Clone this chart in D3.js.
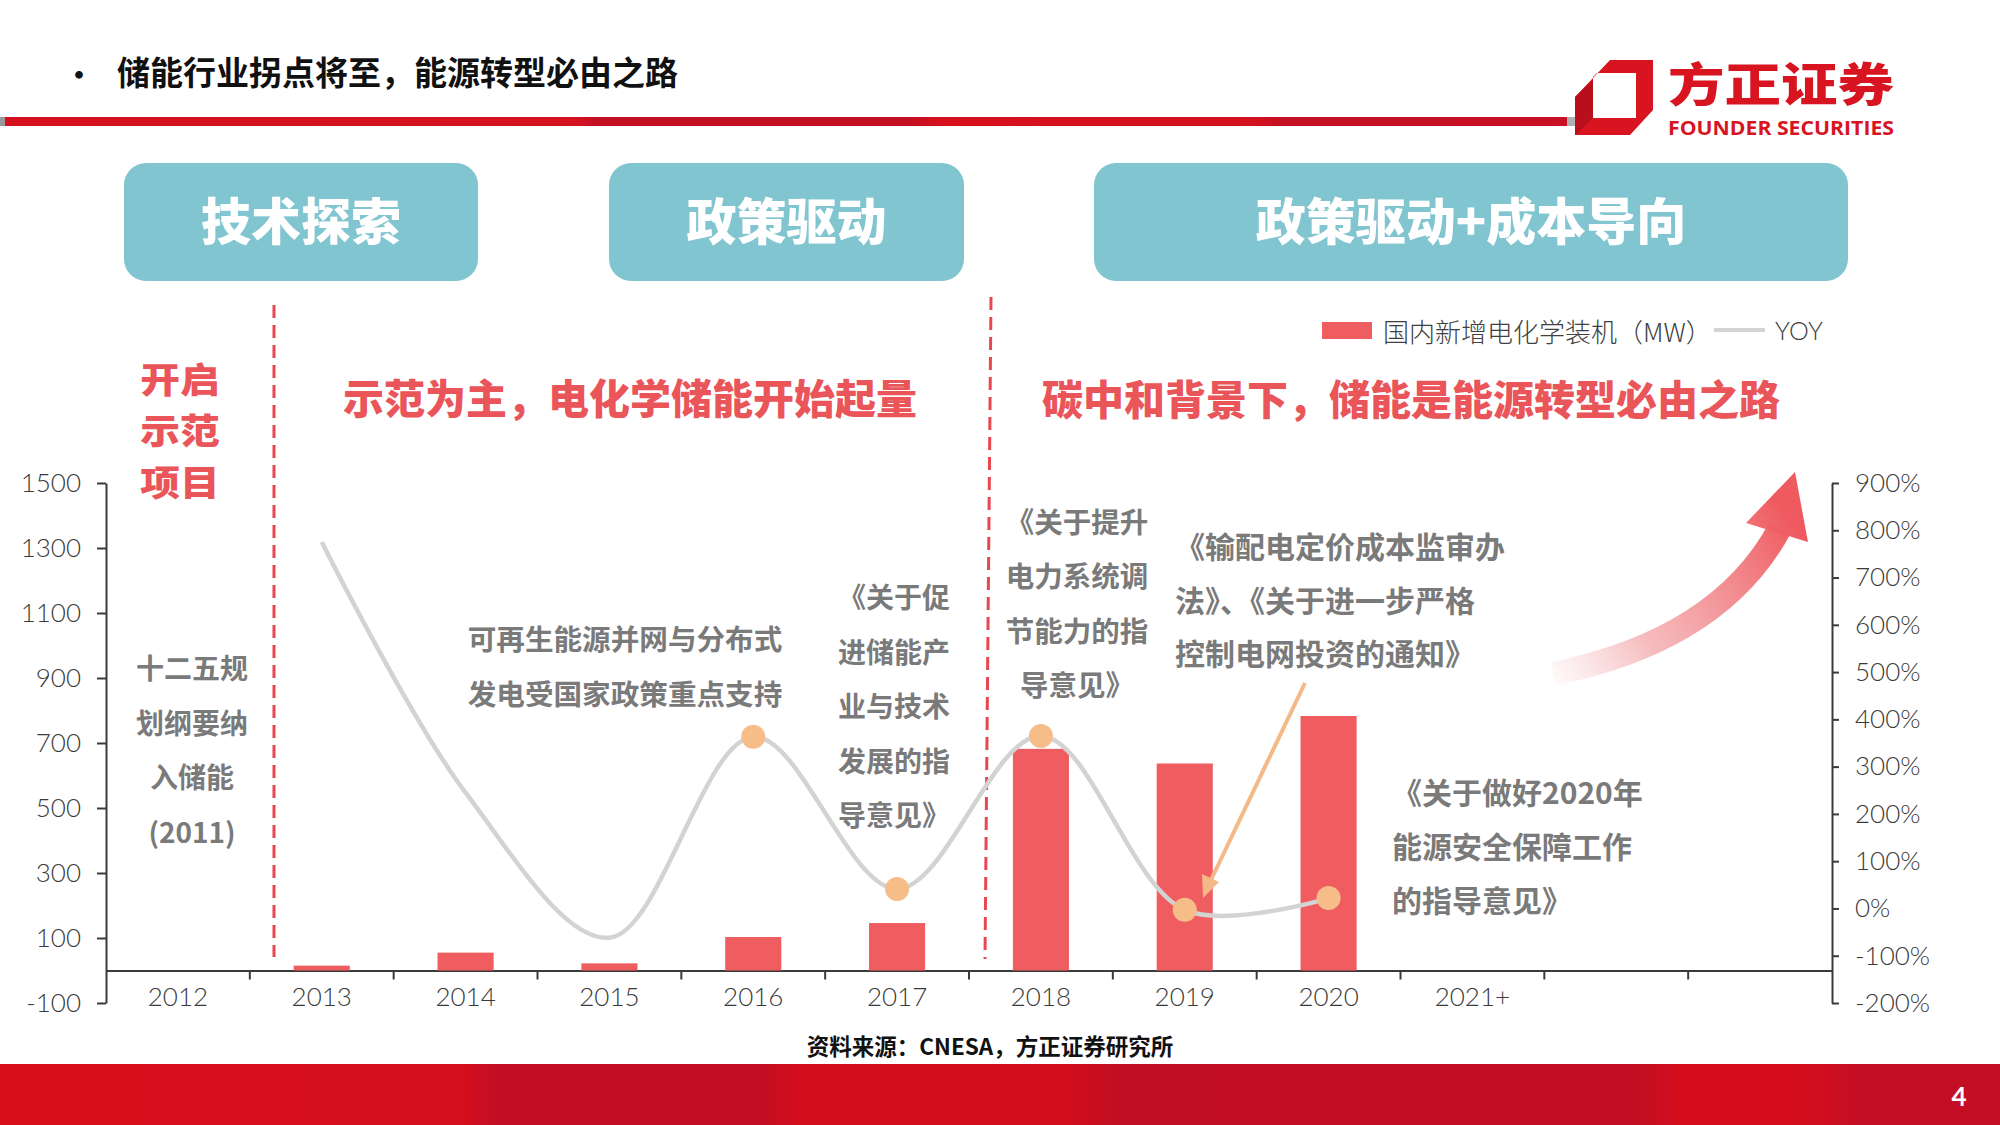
<!DOCTYPE html>
<html><head><meta charset="utf-8">
<script src="https://cdn.jsdelivr.net/npm/d3@7"></script>
<style>
html,body{margin:0;padding:0;background:#fff;}
svg{display:block;}
</style></head><body>
<svg id="chart" width="2000" height="1125"></svg>
<script>
// ---------- data ----------
const categories = ["2012","2013","2014","2015","2016","2017","2018","2019","2020","2021+"];
const slotCount = 12;
const capacityYears = ["2013","2014","2015","2016","2017","2018","2019","2020"];
const capacityMW = [15, 55, 22, 103, 146, 682, 637, 783];
const yoyYears = ["2013","2014","2015","2016","2017","2018","2019","2020"];
const yoyPct = [775, 245, -62, 363, 41, 365, -3, 22];
const yoyDotYears = ["2016","2017","2018","2019","2020"];
const leftTicks = [-100,100,300,500,700,900,1100,1300,1500];
const rightTicks = [-200,-100,0,100,200,300,400,500,600,700,800,900];
const legendLabels = ["国内新增电化学装机（MW）","YOY"];

const CJK = "'Noto Sans CJK SC','Noto Sans',sans-serif";
const NUM = "Lato,'Noto Sans',sans-serif";
const barColor = "#EF5D60";
const teal = "#80C5D0";
const redText = "#EA555A";
const grayText = "#7A7A7A";

const svg = d3.select("#chart");
const defs = svg.append("defs");

// ---------- header ----------
const bandGrad = defs.append("linearGradient").attr("id","topLine").attr("x1","0").attr("x2","1");
[[0,"#D51120"],[0.37,"#D41220"],[0.38,"#C30F24"],[0.58,"#C30F24"],[0.6,"#D6101D"],[0.8,"#D3111F"],[0.82,"#C40F25"],[1,"#C81026"]]
  .forEach(s=>bandGrad.append("stop").attr("offset",s[0]).attr("stop-color",s[1]));
svg.append("rect").attr("x",0).attr("y",117).attr("width",1568).attr("height",9).attr("fill","url(#topLine)");
svg.append("rect").attr("x",0).attr("y",117).attr("width",5).attr("height",9).attr("fill","#999");
svg.append("rect").attr("x",1567).attr("y",117).attr("width",15).attr("height",9).attr("fill","#B0B0B0");

svg.append("text").attr("x",64).attr("y",73).attr("dominant-baseline","central")
  .attr("font-family",CJK).attr("font-weight",700).attr("font-size",30).attr("fill","#111").text("•");
svg.append("text").attr("x",117).attr("y",71).attr("dominant-baseline","central")
  .attr("font-family",CJK).attr("font-weight",700).attr("font-size",33).attr("fill","#111")
  .text("储能行业拐点将至，能源转型必由之路");

// logo
svg.append("path").attr("fill-rule","evenodd").attr("fill","#D7141F")
  .attr("d","M1610,60 L1653,60 L1653,110 L1630,135 L1575,135 L1575,97 Z M1597,73 L1636,73 L1636,118 L1593,118 L1593,77 Z");
svg.append("path").attr("fill","#B80F1C").attr("d","M1575,97 L1593,80 L1593,118 L1575,135 Z");
svg.append("text").attr("x",1668).attr("y",81).attr("dominant-baseline","central")
  .attr("font-family",CJK).attr("font-weight",900).attr("font-size",46).attr("fill","#D7141F")
  .attr("textLength",226).attr("lengthAdjust","spacingAndGlyphs").text("方正证券");
svg.append("text").attr("x",1668).attr("y",127.5).attr("dominant-baseline","central")
  .attr("font-family","'Open Sans','Noto Sans',sans-serif").attr("font-weight",700).attr("font-size",19).attr("fill","#D7141F")
  .attr("textLength",226).attr("lengthAdjust","spacingAndGlyphs").text("FOUNDER SECURITIES");

// teal boxes
const boxes = [
  {x:124,w:354,t:"技术探索"},
  {x:609,w:355,t:"政策驱动"},
  {x:1094,w:754,t:"政策驱动+成本导向"}
];
boxes.forEach(b=>{
  svg.append("rect").attr("x",b.x).attr("y",163).attr("width",b.w).attr("height",118).attr("rx",22).attr("fill",teal);
  svg.append("text").attr("x",b.x+b.w/2).attr("y",218).attr("text-anchor","middle").attr("dominant-baseline","central")
    .attr("font-family",CJK).attr("font-weight",900).attr("font-size",50).attr("fill","#fff").text(b.t);
});

// ---------- scales ----------
const x = d3.scaleBand().domain(d3.range(slotCount)).range([106,1832]).paddingInner(0.61).paddingOuter(0.305);
const idx = c => categories.indexOf(c);
const cx = c => x(idx(c)) + x.bandwidth()/2;
const yL = d3.scaleLinear().domain([-100,1500]).range([1003,483]);
const yR = d3.scaleLinear().domain([-200,900]).range([1003,483]);

// ---------- dashed separators ----------
svg.append("line").attr("x1",274).attr("y1",305).attr("x2",274).attr("y2",957)
  .attr("stroke","#E9474F").attr("stroke-width",3).attr("stroke-dasharray","13,7");
svg.append("line").attr("x1",991).attr("y1",297).attr("x2",985).attr("y2",959)
  .attr("stroke","#E9474F").attr("stroke-width",3).attr("stroke-dasharray","13,7");

// ---------- multi-line text helper ----------
function block(lines, x0, y0, gap, size, anchor, fill, weight, parent){
  const t = (parent||svg).append("text").attr("text-anchor",anchor)
    .attr("font-family",CJK).attr("font-weight",weight).attr("font-size",size).attr("fill",fill);
  lines.forEach((s,i)=>{
    t.append("tspan").attr("x",x0).attr("y",y0+i*gap).attr("dominant-baseline","central").text(s);
  });
  return t;
}

// ---------- red headings ----------
const kq = svg.append("g").attr("transform","translate(180,0) scale(1.12,1)");
block(["开启","示范","项目"],0,377,51.5,35.5,"middle",redText,900,kq);
svg.append("text").attr("x",630).attr("y",396).attr("text-anchor","middle").attr("dominant-baseline","central")
  .attr("font-family",CJK).attr("font-weight",900).attr("font-size",41).attr("fill",redText).text("示范为主，电化学储能开始起量");
svg.append("text").attr("x",1411).attr("y",397).attr("text-anchor","middle").attr("dominant-baseline","central")
  .attr("font-family",CJK).attr("font-weight",900).attr("font-size",41).attr("fill",redText).text("碳中和背景下，储能是能源转型必由之路");

// ---------- legend ----------
svg.append("rect").attr("x",1322).attr("y",322).attr("width",50).attr("height",17).attr("fill",barColor);
svg.append("text").attr("x",1383).attr("y",330).attr("dominant-baseline","central")
  .attr("font-family",CJK).attr("font-weight",300).attr("font-size",26).attr("fill","#404040").text(legendLabels[0]);
svg.append("line").attr("x1",1714).attr("x2",1765).attr("y1",330).attr("y2",330).attr("stroke","#D3D3D3").attr("stroke-width",4);
svg.append("text").attr("x",1775).attr("y",330).attr("dominant-baseline","central")
  .attr("font-family",NUM).attr("font-weight",300).attr("font-size",25).attr("fill","#404040").text(legendLabels[1]);

// ---------- axes ----------
function styleAxis(g){
  g.selectAll("path.domain").attr("stroke","#3A3A3A").attr("stroke-width",2);
  g.selectAll(".tick line").attr("stroke","#3A3A3A").attr("stroke-width",2);
  g.selectAll(".tick text").attr("font-family",NUM).attr("font-weight",300).attr("font-size",26).attr("fill","#3A3A3A");
}
const gL = svg.append("g").attr("transform","translate(106,0)")
  .call(d3.axisLeft(yL).tickValues(leftTicks).tickFormat(d=>String(d)).tickSize(9).tickSizeOuter(0).tickPadding(16));
styleAxis(gL);
const gR = svg.append("g").attr("transform","translate(1832,0)")
  .call(d3.axisRight(yR).tickValues(rightTicks).tickFormat(d=>String(d)+"%").tickSize(7).tickSizeOuter(0).tickPadding(16));
styleAxis(gR);
const gX = svg.append("g").attr("transform",`translate(0,${yL(0)})`)
  .call(d3.axisBottom(x).tickFormat(i=>categories[i]||"").tickSize(0).tickSizeOuter(0).tickPadding(17));
styleAxis(gX);
const halfGap = (x.step()-x.bandwidth())/2;
gX.selectAll("line.bound").data(d3.range(1,slotCount)).join("line").attr("class","bound")
  .attr("x1",i=>x(i)-halfGap).attr("x2",i=>x(i)-halfGap).attr("y1",0).attr("y2",9)
  .attr("stroke","#3A3A3A").attr("stroke-width",2);

// ---------- bars ----------
svg.append("g").selectAll("rect").data(capacityYears.map((y,i)=>({y,v:capacityMW[i]}))).join("rect")
  .attr("x",d=>x(idx(d.y))).attr("width",x.bandwidth())
  .attr("y",d=>yL(d.v)).attr("height",d=>yL(0)-yL(d.v)).attr("fill",barColor);

// ---------- YOY line ----------
const yoyData = yoyYears.map((y,i)=>({y,v:yoyPct[i]}));
svg.append("path").datum(yoyData)
  .attr("d",d3.line().x(d=>cx(d.y)).y(d=>yR(d.v)).curve(d3.curveCatmullRom.alpha(0.5)))
  .attr("fill","none").attr("stroke","#D3D3D3").attr("stroke-width",4.5);
svg.append("g").selectAll("circle").data(yoyData.filter(d=>yoyDotYears.includes(d.y))).join("circle")
  .attr("cx",d=>cx(d.y)).attr("cy",d=>yR(d.v)).attr("r",12).attr("fill","#F7BD89");

// ---------- gray annotations ----------
block(["十二五规","划纲要纳","入储能","(2011)"],192,667,54.5,28,"middle",grayText,700);
block(["可再生能源并网与分布式","发电受国家政策重点支持"],625,637,55,28.6,"middle",grayText,700);
block(["《关于促","进储能产","业与技术","发展的指","导意见》"],838,596,54.5,28,"start",grayText,700);
block(["《关于提升","电力系统调","节能力的指","导意见》"],1077,520,54.5,28.5,"middle",grayText,700);
block(["《输配电定价成本监审办","法》、《关于进一步严格","控制电网投资的通知》"],1175,545,53.5,30,"start",grayText,700);
block(["《关于做好2020年","能源安全保障工作","的指导意见》"],1392,791,54,30,"start",grayText,700);

// ---------- orange pointer arrow ----------
svg.append("line").attr("x1",1305).attr("y1",683).attr("x2",1211).attr("y2",880)
  .attr("stroke","#F5B887").attr("stroke-width",4);
svg.append("path").attr("fill","#F5B887").attr("d","M1203,898 L1202,874 L1219,882 Z");

// ---------- big rising arrow ----------
const ag = defs.append("linearGradient").attr("id","arrGrad").attr("gradientUnits","userSpaceOnUse")
  .attr("x1",1553).attr("y1",680).attr("x2",1790).attr("y2",520);
ag.append("stop").attr("offset",0).attr("stop-color","#F4A9AC").attr("stop-opacity",0.05);
ag.append("stop").attr("offset",0.35).attr("stop-color","#F1979A").attr("stop-opacity",0.65);
ag.append("stop").attr("offset",1).attr("stop-color","#EE5A60").attr("stop-opacity",1);
svg.append("path").attr("d","M1553,674 Q1720,640 1780,528").attr("fill","none")
  .attr("stroke","url(#arrGrad)").attr("stroke-width",24);
svg.append("path").attr("d","M1795,472 L1746,523 L1808,542 Z").attr("fill","url(#arrGrad)");

// ---------- source ----------
svg.append("text").attr("x",990).attr("y",1045).attr("text-anchor","middle").attr("dominant-baseline","central")
  .attr("font-family",CJK).attr("font-weight",700).attr("font-size",22.5).attr("fill","#111")
  .text("资料来源：CNESA，方正证券研究所");

// ---------- bottom band ----------
const bg = defs.append("linearGradient").attr("id","botBand").attr("x1","0").attr("x2","1");
[[0,"#D90E1B"],[0.23,"#D50F1D"],[0.25,"#C20D24"],[0.38,"#C20D24"],[0.4,"#D40E1C"],[0.53,"#D40E1C"],[0.56,"#C10D23"],[0.82,"#C30D23"],[0.84,"#D60E1C"],[0.9,"#D60E1C"],[0.93,"#C40E24"],[1,"#C40E24"]]
  .forEach(s=>bg.append("stop").attr("offset",s[0]).attr("stop-color",s[1]));
svg.append("rect").attr("x",0).attr("y",1064).attr("width",2000).attr("height",61).attr("fill","url(#botBand)");
svg.append("text").attr("x",1959).attr("y",1096).attr("text-anchor","middle").attr("dominant-baseline","central")
  .attr("font-family",NUM).attr("font-weight",700).attr("font-size",26).attr("fill","#fff").text("4");
</script>
</body></html>
